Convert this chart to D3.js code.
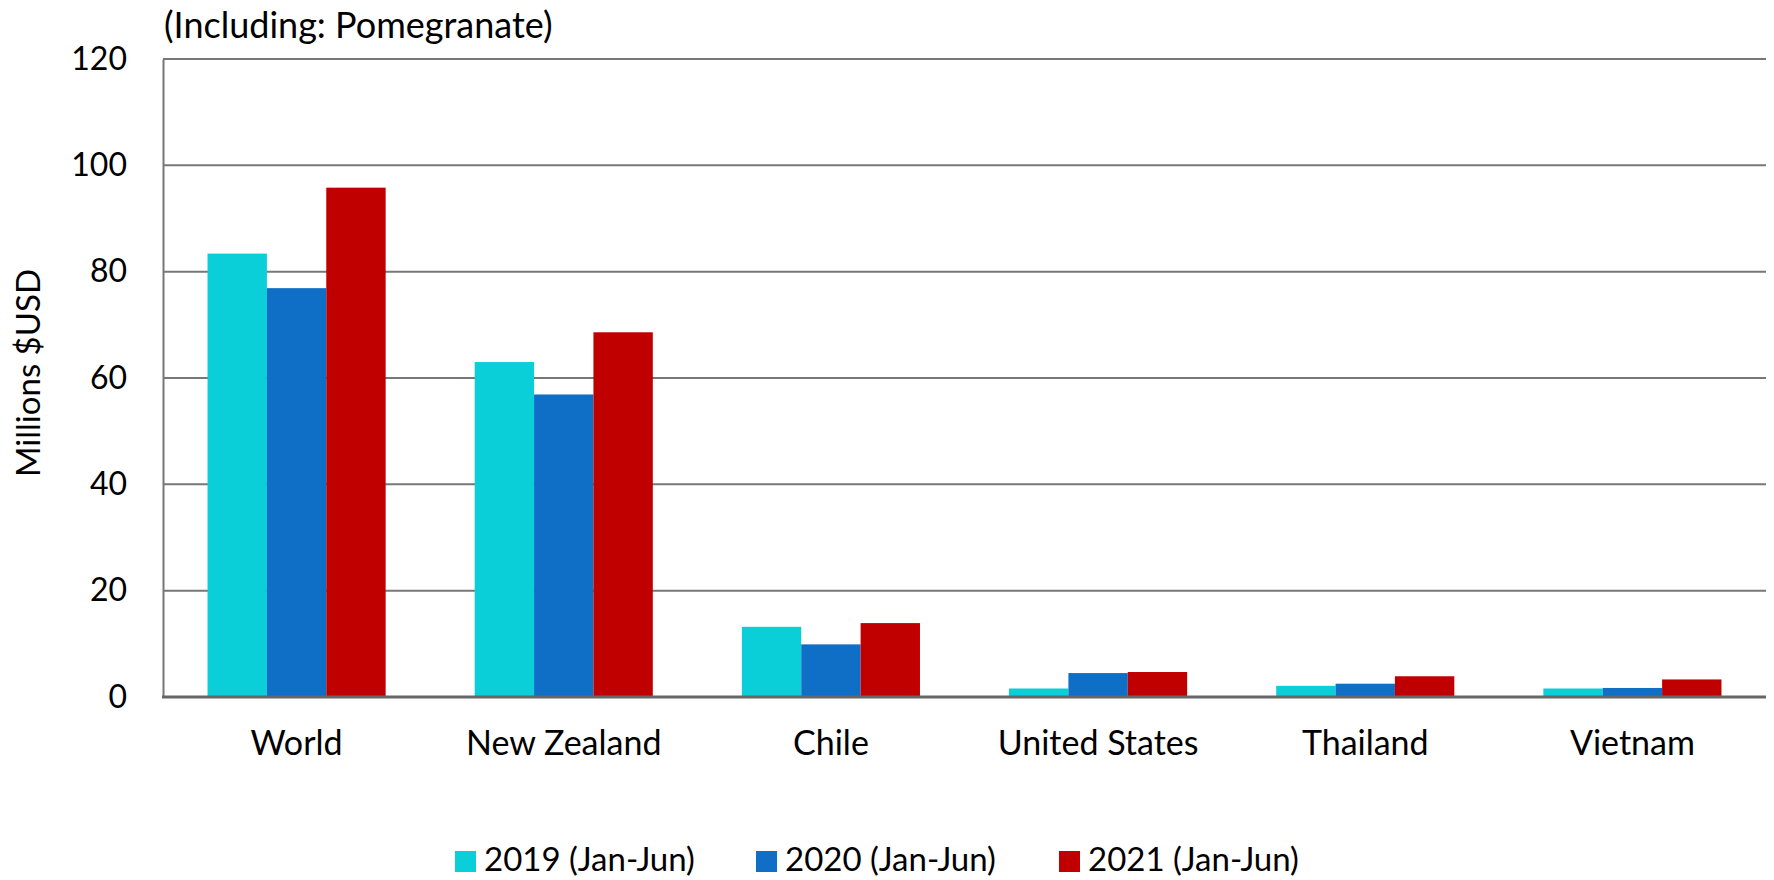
<!DOCTYPE html>
<html><head><meta charset="utf-8">
<script src="https://cdn.jsdelivr.net/npm/d3@7"></script>
<style>
body{margin:0;background:#fff;}
text{font-family:Lato,"Open Sans",sans-serif;fill:#000;}
</style></head>
<body><svg id="c" width="1774" height="880"></svg>
<script>
const categories = ["World","New Zealand","Chile","United States","Thailand","Vietnam"];
const seriesNames = ["2019 (Jan-Jun)","2020 (Jan-Jun)","2021 (Jan-Jun)"];
const values2019 = [83.4, 63.0, 13.2, 1.6, 2.1, 1.6];
const values2020 = [76.9, 56.9, 9.9, 4.5, 2.5, 1.7];
const values2021 = [95.8, 68.6, 13.9, 4.7, 3.9, 3.3];
const yTicks = [0,20,40,60,80,100,120];
const colors = ["#0BCFD8","#0F6FC6","#C00000"];
const series = [values2019, values2020, values2021];

const svg = d3.select("#c");
const L = 163, R = 1766, T = 59, B = 697;
const x0 = d3.scaleBand().domain(categories).range([L,R]).paddingInner(0).paddingOuter(0);
const x1 = d3.scaleBand().domain(d3.range(3)).range([0,x0.bandwidth()]).paddingInner(0).paddingOuter(0.75);
const y = d3.scaleLinear().domain([0,120]).range([B,T]);

// gridlines
svg.append("g").selectAll("line").data(yTicks.filter(d=>d>0)).join("line")
  .attr("x1",L).attr("x2",R).attr("y1",d=>y(d)).attr("y2",d=>y(d))
  .attr("stroke","#777").attr("stroke-width",2);

// bars
const g = svg.append("g");
categories.forEach((c,i)=>{
  series.forEach((s,j)=>{
    g.append("rect").attr("x",x0(c)+x1(j)).attr("width",x1.bandwidth())
     .attr("y",y(s[i])).attr("height",y(0)-y(s[i])).attr("fill",colors[j]);
  });
});

// axes
const ya = svg.append("g").attr("transform",`translate(${L},0)`)
  .call(d3.axisLeft(y).tickValues(yTicks).tickSize(0).tickPadding(36));
ya.select(".domain").attr("stroke","#777").attr("stroke-width",2);
ya.selectAll("text").style("font-family","Lato").style("font-size","32px");

svg.append("line").attr("x1",L-1).attr("x2",R).attr("y1",B).attr("y2",B)
  .attr("stroke","#666").attr("stroke-width",3);

const xa = svg.append("g").attr("transform",`translate(0,${B})`)
  .call(d3.axisBottom(x0).tickSize(0).tickPadding(34));
xa.select(".domain").remove();
xa.selectAll("text").style("font-family","Lato").style("font-size","34px");

// title
svg.append("text").attr("x",164).attr("y",38).style("font-size","36px").text("(Including: Pomegranate)");
// y label
svg.append("text").attr("transform","translate(40,373) rotate(-90)").attr("text-anchor","middle")
  .style("font-size","33px").text("Millions $USD");

// legend
const legX = [455, 756, 1059];
const lg = svg.append("g");
seriesNames.forEach((n,j)=>{
  lg.append("rect").attr("x",legX[j]).attr("y",851).attr("width",21).attr("height",21).attr("fill",colors[j]);
  lg.append("text").attr("x",legX[j]+29).attr("y",871).style("font-size","33px").text(n);
});
</script></body></html>
